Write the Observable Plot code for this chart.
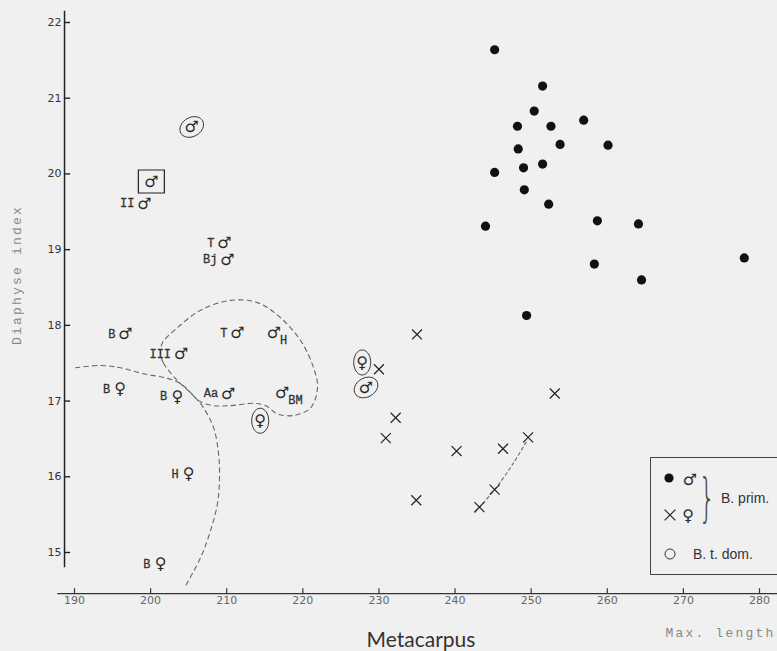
<!DOCTYPE html>
<html><head><meta charset="utf-8">
<script src="https://cdn.jsdelivr.net/npm/d3@7"></script>
<script src="https://cdn.jsdelivr.net/npm/@observablehq/plot@0.6"></script>
<style>
html,body{margin:0;padding:0;background:#f0f0f0;}
#wrap{position:relative;width:777px;height:651px;overflow:hidden;background:#f0f0f0;}
#legend{position:absolute;left:650px;top:457px;width:150px;height:118px;border:1px solid #444;box-sizing:border-box;}
</style></head>
<body><div id="wrap"><div id="legend"></div></div>
<script>
// ---- data ----
const xTicks = [190,200,210,220,230,240,250,260,270,280];
const yTicks = [15,16,17,18,19,20,21,22];

// B. prim. males (filled dots)
const primMaleX = [245.2,251.5,250.4,248.2,252.6,256.9,248.3,253.8,260.1,245.2,249.0,251.5,249.1,252.3,244.0,258.7,264.1,278.0,258.3,264.5,249.4];
const primMaleY = [21.64,21.16,20.83,20.63,20.63,20.71,20.33,20.39,20.38,20.02,20.08,20.13,19.79,19.60,19.31,19.38,19.34,18.89,18.81,18.60,18.13];

// B. prim. females (crosses)
const primFemaleX = [235.0,230.0,253.1,232.2,230.9,240.2,246.3,249.6,245.2,234.9,243.2];
const primFemaleY = [17.88,17.42,17.10,16.78,16.51,16.34,16.37,16.52,15.83,15.69,15.60];

// B. t. dom. (sex symbols with site labels)
const domX = [205.4,200.1,199.2,209.7,210.1,196.7,211.4,216.2,204.0,196.0,203.5,210.2,217.3,214.4,227.8,228.3,205.0,201.3];
const domY = [20.62,19.90,19.61,19.09,18.87,17.89,17.90,17.90,17.62,17.16,17.06,17.10,17.11,16.74,17.51,17.18,16.04,14.85];
const domSex = ["♂","♂","♂","♂","♂","♂","♂","♂","♂","♀","♀","♂","♂","♀","♀","♂","♀","♀"];
const domLabel = ["","","II","T","Bj","B","T","H","III","B","B","Aa","BM","","","","H","B"];
const domLabelSide = ["","","left","left","left","left","left","right","left","left","left","left","right","","","","left","left"];
const domFrame = ["ellipse","box","","","","","","","","","","","","ellipse","ellipse","ellipse","",""];

// dashed outlines
const loopOutline = [[201.30,17.63],[201.70,17.50],[203.53,17.27],[205.24,17.11],[206.56,16.99],[208.27,16.94],[210.50,16.94],[213.52,16.97],[215.10,16.94],[216.68,16.83],[218.78,16.81],[221.01,16.91],[221.93,17.18],[221.41,17.44],[219.70,17.80],[217.07,18.10],[214.05,18.30],[210.50,18.33],[206.56,18.20],[203.53,17.97],[201.56,17.77]];
const leftOutline = [[190.13,17.44],[193.42,17.47],[196.04,17.44],[199.07,17.36],[202.22,17.30],[203.93,17.23],[205.64,17.07],[206.95,16.91],[208.27,16.65],[208.92,16.31],[209.05,15.99],[208.79,15.65],[207.87,15.29],[206.56,14.93],[204.59,14.56]];
const femaleTrend = [[242.6,15.53],[245.2,15.83],[247.6,16.17],[249.4,16.47]];

// axis geometry (data units)
const xAxisAt = 14.457, xAxisFrom = 187.8, xAxisTo = 282.4, xTickLen = 0.065;
const yAxisAt = 188.69, yAxisFrom = 14.8, yAxisTo = 22.15, yTickLen = 0.8;

// ---- build ----
const primMale = primMaleX.map((x,i)=>({x, y:primMaleY[i]}));
const primFemale = primFemaleX.map((x,i)=>({x, y:primFemaleY[i]}));
const dom = domX.map((x,i)=>({x, y:domY[i], sex:domSex[i], label:domLabel[i], side:domLabelSide[i], frame:domFrame[i]}));

function ellipseSymbol(rx, ry, angleDeg){
  const a = angleDeg*Math.PI/180, n = 40;
  return {draw(ctx, size){
    const s = Math.sqrt(size/Math.PI);
    for(let k=0;k<=n;k++){
      const t = 2*Math.PI*k/n;
      const ex = rx*s*Math.cos(t), ey = ry*s*Math.sin(t);
      const px = ex*Math.cos(a) - ey*Math.sin(a), py = ex*Math.sin(a) + ey*Math.cos(a);
      k ? ctx.lineTo(px,py) : ctx.moveTo(px,py);
    }
    ctx.closePath();
  }};
}
function rectSymbol(w,h){
  return {draw(ctx,size){const s=Math.sqrt(size/Math.PI);ctx.rect(-w*s/2,-h*s/2,w*s,h*s);}};
}

const dash = {stroke:"#666", strokeWidth:1.1, strokeDasharray:"4.5,4"};
const labelFont = {fontFamily:"Liberation Mono", fontSize:12, fill:"#333", stroke:"#333", strokeWidth:0.3};
const sexFont = {fontFamily:"DejaVu Sans", fontSize:16, fill:"#2a2a2a"};

const chart = Plot.plot({
  width:777, height:651,
  marginLeft:64, marginRight:0, marginTop:0, marginBottom:58,
  x:{domain:[190,280], range:[74,759]},
  y:{domain:[15,22], range:[552,22]},
  style:{background:"transparent", fontFamily:"DejaVu Sans"},
  marks:[
    // axes
    Plot.ruleY([xAxisAt], {x1:xAxisFrom, x2:xAxisTo, stroke:"#333", strokeWidth:1.4}),
    Plot.ruleX(xTicks, {x:d=>d, y1:xAxisAt, y2:xAxisAt + xTickLen, stroke:"#333", strokeWidth:1.2}),
    Plot.ruleX([yAxisAt], {y1:yAxisFrom, y2:yAxisTo, stroke:"#222", strokeWidth:1.5}),
    Plot.ruleY(yTicks, {y:d=>d, x1:yAxisAt, x2:yAxisAt + yTickLen, stroke:"#222", strokeWidth:1.4}),
    Plot.axisX({ticks:xTicks, tickSize:0, tickPadding:3, fontSize:11, color:"#666", label:null}),
    Plot.axisY({ticks:yTicks, tickFormat:"d", tickSize:0, tickPadding:3, fontSize:11, color:"#333", label:null}),
    Plot.text(["Metacarpus"], {frameAnchor:"bottom", lineAnchor:"middle", dy:47, fontSize:21, fontFamily:"Lato", fill:"#333"}),
    Plot.text(["Max. length"], {frameAnchor:"bottom-right", textAnchor:"end", lineAnchor:"middle", dx:-2, dy:39, fontSize:13, fontFamily:"Liberation Mono", fill:"#888"}),
    Plot.text(["Diaphyse index"], {frameAnchor:"left", textAnchor:"middle", lineAnchor:"middle", rotate:-90, dx:-48, dy:-22, fontSize:13, fontFamily:"Liberation Mono", fill:"#888"}),
    // outlines
    Plot.line(loopOutline, {x:d=>d[0], y:d=>d[1], curve:"catmull-rom-closed", ...dash}),
    Plot.line(leftOutline, {x:d=>d[0], y:d=>d[1], curve:"catmull-rom", ...dash}),
    Plot.line(femaleTrend, {x:d=>d[0], y:d=>d[1], curve:"catmull-rom", ...dash, strokeDasharray:"3,3"}),
    // B. prim.
    Plot.dot(primMale, {x:"x", y:"y", r:4.6, fill:"#111", stroke:"none"}),
    Plot.dot(primFemale, {x:"x", y:"y", r:4.6, symbol:"times", stroke:"#222", strokeWidth:1.2}),
    // B. t. dom.
    Plot.text(dom, {x:"x", y:"y", text:"sex", ...sexFont}),
    Plot.text(dom.filter(d=>d.side==="left"), {x:"x", y:"y", text:"label", textAnchor:"end", dx:-10, ...labelFont}),
    Plot.text(dom.filter(d=>d.side==="right"), {x:"x", y:"y", text:"label", textAnchor:"start", dx:6, dy:7, ...labelFont}),
    Plot.dot(dom.filter(d=>d.frame==="box"), {x:"x", y:"y", r:1, symbol:rectSymbol(26,23), stroke:"#222", strokeWidth:1.2, fill:"none"}),
    Plot.dot(dom.filter(d=>d.frame==="ellipse" && d.sex==="♂"), {x:"x", y:"y", r:1, symbol:ellipseSymbol(12.5,9.5,-30), stroke:"#333", strokeWidth:1, fill:"none"}),
    Plot.dot(dom.filter(d=>d.frame==="ellipse" && d.sex==="♀"), {x:"x", y:"y", r:1, symbol:ellipseSymbol(8.5,12.5,0), stroke:"#333", strokeWidth:1, fill:"none"})
  ]
});
const wrap = document.getElementById("wrap");
wrap.insertBefore(chart, wrap.firstChild);
d3.select(chart).selectAll("text").filter(function(){const t=this.textContent;return t==="Max. length"||t==="Diaphyse index";}).style("letter-spacing","2.2px");

// legend
const lg = d3.select("#legend").append("svg").attr("width",150).attr("height",118);
lg.append("circle").attr("cx",18).attr("cy",20).attr("r",4.6).attr("fill","#111");
lg.append("text").attr("x",39).attr("y",21).attr("dy","0.35em").attr("text-anchor","middle").attr("font-family","DejaVu Sans").attr("font-size",16).attr("fill","#2a2a2a").text("♂");
lg.append("path").attr("d",d3.symbol(d3.symbolTimes, 78)()).attr("transform","translate(19,57)").attr("stroke","#222").attr("stroke-width",1.2).attr("fill","none");
lg.append("text").attr("x",37).attr("y",57).attr("dy","0.35em").attr("text-anchor","middle").attr("font-family","DejaVu Sans").attr("font-size",16).attr("fill","#2a2a2a").text("♀");
lg.append("text").attr("x",56).attr("y",39).attr("dy","0.35em").attr("text-anchor","middle").attr("font-family","DejaVu Sans").attr("font-size",52).attr("font-weight","200").attr("fill","#444").attr("transform","translate(56,39) scale(0.5,1) translate(-56,-39)").text("}");
lg.append("text").attr("x",70).attr("y",40).attr("dy","0.35em").attr("font-family","Liberation Sans").attr("font-size",14).attr("fill","#333").text("B. prim.");
lg.append("circle").attr("cx",19).attr("cy",96).attr("r",5).attr("fill","none").attr("stroke","#333").attr("stroke-width",1);
lg.append("text").attr("x",42).attr("y",96).attr("dy","0.35em").attr("font-family","Liberation Sans").attr("font-size",14).attr("fill","#333").text("B. t. dom.");
</script></body></html>
